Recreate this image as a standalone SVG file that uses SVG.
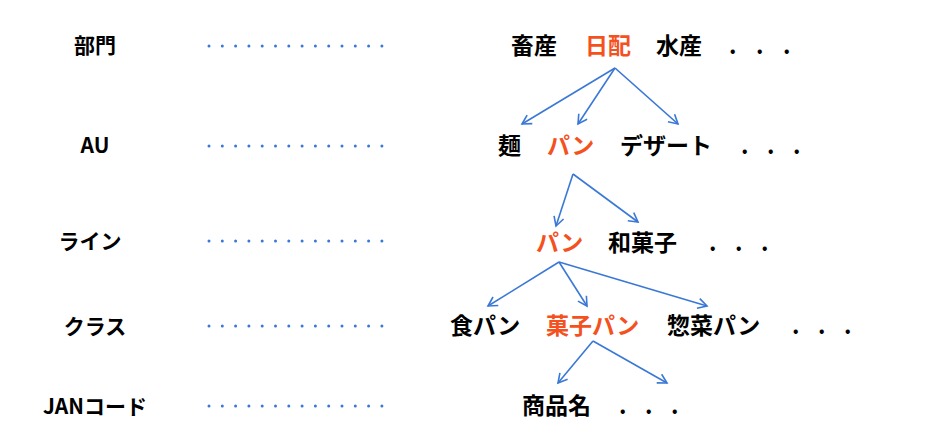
<svg xmlns="http://www.w3.org/2000/svg" width="940" height="421" viewBox="0 0 940 421">
<style>
text{font-family:"Noto Sans CJK JP","Liberation Sans",sans-serif;font-weight:bold;font-size:23px;fill:#000}
.o{fill:#f4511e}
.lbl{text-anchor:middle;font-size:21px}
.dl{stroke:#3a78d6;stroke-width:3;stroke-linecap:round;stroke-dasharray:0 13.3}
.c path{fill:none;stroke:#3a78d6;stroke-width:1.6}
</style>
<defs><marker id="a" markerWidth="12" markerHeight="12" refX="10" refY="6" orient="auto" markerUnits="userSpaceOnUse"><path d="M1,1 L10,6 L1,11" fill="none" stroke="#3a78d6" stroke-width="1.6"/></marker></defs>
<rect width="940" height="421" fill="#fff"/>
<g id="labels">
<text class="lbl" x="95" y="53">部門</text>
<text class="lbl" x="95" y="153">AU</text>
<text class="lbl" x="90" y="249">ライン</text>
<text class="lbl" x="95" y="334">クラス</text>
<text class="lbl" x="95" y="414">JANコード</text>
</g>
<g id="guides">
<line class="dl" x1="209" y1="46" x2="392" y2="46"/>
<line class="dl" x1="209" y1="146" x2="392" y2="146"/>
<line class="dl" x1="209" y1="241" x2="392" y2="241"/>
<line class="dl" x1="209" y1="326" x2="392" y2="326"/>
<line class="dl" x1="209" y1="406" x2="392" y2="406"/>
</g>
<g id="row1"><text x="511" y="54">畜産</text><text class="o" x="585" y="54">日配</text><text x="656" y="54">水産</text><text x="729 756 783" y="54">...</text></g>
<g id="row2"><text x="498" y="154">麺</text><text class="o" x="547" y="154">パン</text><text x="620" y="154">デザート</text><text x="741 767 793" y="154">...</text></g>
<g id="row3"><text class="o" x="536" y="251">パン</text><text x="608" y="251">和菓子</text><text x="709 735 761" y="251">...</text></g>
<g id="row4"><text x="450" y="334">食パン</text><text class="o" x="546" y="334">菓子パン</text><text x="667" y="334">惣菜パン</text><text x="792 818 844" y="334">...</text></g>
<g id="row5"><text x="522" y="414">商品名</text><text x="619 645 671" y="414">...</text></g>
<g class="c" id="connectors">
<path d="M615,68 L522,124" marker-end="url(#a)"/>
<path d="M615,68 L578,124" marker-end="url(#a)"/>
<path d="M615,68 L678,124" marker-end="url(#a)"/>
<path d="M573,174 L556,226" marker-end="url(#a)"/>
<path d="M573,174 L638,222" marker-end="url(#a)"/>
<path d="M559,262 L488,306" marker-end="url(#a)"/>
<path d="M559,262 L587,306" marker-end="url(#a)"/>
<path d="M559,262 L707,306" marker-end="url(#a)"/>
<path d="M593,341 L558,383" marker-end="url(#a)"/>
<path d="M593,341 L667,383" marker-end="url(#a)"/>
</g>
</svg>
